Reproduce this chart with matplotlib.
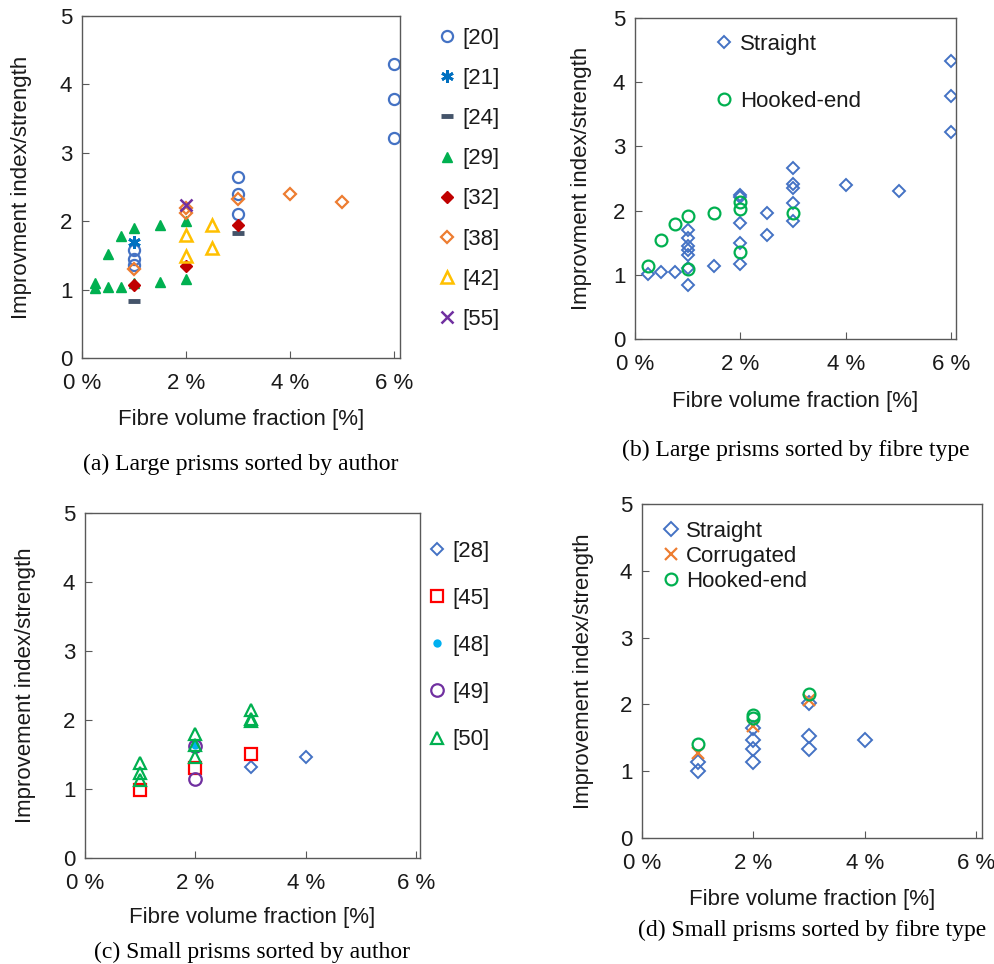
import matplotlib
matplotlib.use('Agg')
import matplotlib.pyplot as plt

plt.rcParams['font.family'] = ['Liberation Sans', 'DejaVu Sans']

# ---- (a) large prisms sorted by author ----
a20_x = [1, 1, 1, 3, 3, 3, 6, 6, 6]
a20_y = [1.58, 1.45, 1.36, 2.65, 2.40, 2.11, 4.30, 3.78, 3.22]
a21_x = [1]
a21_y = [1.69]
a24_x = [1, 3]
a24_y = [0.84, 1.83]
a29_x = [0.25, 0.25, 0.5, 0.5, 0.75, 0.75, 1, 1, 1.5, 1.5, 2, 2]
a29_y = [1.10, 1.02, 1.04, 1.52, 1.04, 1.78, 1.90, 1.10, 1.11, 1.94, 2.00, 1.16]
a32_x = [1, 2, 3]
a32_y = [1.07, 1.35, 1.94]
a38_x = [1, 2, 2, 3, 4, 5]
a38_y = [1.30, 2.19, 2.12, 2.32, 2.40, 2.28]
a42_x = [2, 2, 2.5, 2.5]
a42_y = [1.80, 1.49, 1.94, 1.61]
a55_x = [2]
a55_y = [2.23]

# ---- (b) large prisms sorted by fibre type ----
b_straight_x = [0.25, 0.5, 0.75, 1, 1, 1, 1, 1, 1, 1, 1.5, 2, 2, 2, 2, 2,
                2.5, 2.5, 3, 3, 3, 3, 3, 4, 5, 6, 6, 6]
b_straight_y = [1.02, 1.04, 1.04, 1.70, 1.58, 1.45, 1.38, 1.31, 1.10, 0.84,
                1.13, 2.24, 2.21, 1.80, 1.50, 1.17, 1.96, 1.62, 2.67, 2.41,
                2.35, 2.12, 1.84, 2.40, 2.30, 4.33, 3.79, 3.23]
b_hooked_x = [0.25, 0.5, 0.75, 1, 1, 1.5, 2, 2, 2, 3]
b_hooked_y = [1.13, 1.54, 1.79, 1.92, 1.09, 1.97, 2.14, 2.02, 1.35, 1.96]

# ---- (c) small prisms sorted by author ----
c28_x = [3, 4]
c28_y = [1.32, 1.47]
c45_x = [1, 2, 3]
c45_y = [0.99, 1.31, 1.51]
c48_x = [2]
c48_y = [1.64]
c49_x = [2, 2]
c49_y = [1.62, 1.14]
c50_x = [1, 1, 1, 2, 2, 2, 3, 3, 3]
c50_y = [1.37, 1.23, 1.13, 1.79, 1.63, 1.46, 2.14, 2.02, 1.98]

# ---- (d) small prisms sorted by fibre type ----
d_straight_x = [1, 1, 2, 2, 2, 2, 3, 3, 3, 4]
d_straight_y = [1.00, 1.14, 1.64, 1.47, 1.33, 1.14, 2.02, 1.52, 1.33, 1.47]
d_corr_x = [1, 2, 3]
d_corr_y = [1.27, 1.67, 2.06]
d_hooked_x = [1, 2, 2, 3]
d_hooked_y = [1.41, 1.84, 1.79, 2.16]

x_ticks = [0, 2, 4, 6]
x_ticklabels = ['0 %', '2 %', '4 %', '6 %']
y_ticks = [0, 1, 2, 3, 4, 5]

BLUE = '#4472C4'
GREEN = '#00B050'
ORANGE = '#ED7D31'
SPINE = '#595959'
TEXT = '#1a1a1a'
FS = 16

fig = plt.figure(figsize=(9.95, 9.64), dpi=100)


def add_panel(rect, xmax, ylabel, caption, cap_off, ylab_off, xlab_off):
    ax = fig.add_axes(rect)
    w_px = rect[2] * 995
    h_px = rect[3] * 964
    ax.set_xlim(0, xmax)
    ax.set_ylim(0, 5)
    ax.set_xticks(x_ticks)
    ax.set_xticklabels(x_ticklabels)
    ax.set_yticks(y_ticks)
    ax.tick_params(direction='in', length=5, width=0.8, color=SPINE,
                   labelsize=FS, labelcolor=TEXT)
    ax.tick_params(axis='x', pad=11)
    ax.tick_params(axis='y', pad=7)
    for s in ax.spines.values():
        s.set_color(SPINE)
        s.set_linewidth(1.0)
    ax.set_xlabel('Fibre volume fraction [%]', fontsize=FS, color=TEXT)
    ax.set_ylabel(ylabel, fontsize=FS, color=TEXT)
    ax.yaxis.set_label_coords(-ylab_off / w_px, 0.5)
    ax.xaxis.set_label_coords(0.5, -xlab_off / h_px)
    ax.text(0.5, -cap_off / h_px, caption, transform=ax.transAxes,
            ha='center', va='center', fontsize=17,
            family='Liberation Serif', color='black')
    return ax


def pts(ax, x, y, **kw):
    style = dict(linestyle='none', markersize=8, markeredgewidth=1.6)
    style.update(kw)
    return ax.plot(x, y, **style)[0]


def legend(ax, handles, anchor, spacing):
    ax.legend(handles=handles, loc='upper left', bbox_to_anchor=anchor,
              frameon=False, fontsize=FS, handlelength=0.8, handletextpad=0.3,
              labelspacing=spacing, borderaxespad=0, borderpad=0,
              labelcolor=TEXT)


# (a)
ax = add_panel([0.0824, 0.6286, 0.3196, 0.3548], 6.12,
               'Improvment index/strength',
               '(a) Large prisms sorted by author', 106, 50, 51)
h = []
h.append(pts(ax, a20_x, a20_y, marker='o', mfc='none', mec=BLUE, label='[20]'))
h.append(pts(ax, a21_x, a21_y, marker=(6, 2, 0), color='#0070C0',
             markersize=9, markeredgewidth=2, label='[21]'))
h.append(pts(ax, a24_x, a24_y, marker='_', color='#44546A', markersize=9,
             markeredgewidth=3.5, label='[24]'))
h.append(pts(ax, a29_x, a29_y, marker='^', color=GREEN, markersize=7,
             markeredgewidth=1, label='[29]'))
h.append(pts(ax, a32_x, a32_y, marker='D', color='#C00000', markersize=6,
             markeredgewidth=1, label='[32]'))
h.append(pts(ax, a38_x, a38_y, marker='D', mfc='none', mec=ORANGE,
             markersize=6.5, label='[38]'))
h.append(pts(ax, a42_x, a42_y, marker='^', mfc='none', mec='#FFC000',
             markersize=9, markeredgewidth=1.8, label='[42]'))
h.append(pts(ax, a55_x, a55_y, marker='x', color='#7030A0', markersize=8,
             markeredgewidth=1.8, label='[55]'))
legend(ax, h, (1.12, 0.965), 0.86)

# (b)
ax = add_panel([0.6382, 0.6483, 0.3226, 0.3330], 6.09,
               'Improvment index/strength',
               '(b) Large prisms sorted by fibre type', 111, 43, 52)
h1 = pts(ax, b_straight_x, b_straight_y, marker='D', mfc='none', mec=BLUE,
         markersize=6.5, markeredgewidth=1.4, label='Straight')
h2 = pts(ax, b_hooked_x, b_hooked_y, marker='o', mfc='none', mec=GREEN,
         markersize=8.5, markeredgewidth=1.6, label='Hooked-end')
legend(ax, [h1, h2], (0.25, 0.950), 1.6)

# (c)
ax = add_panel([0.0854, 0.1100, 0.3367, 0.3579], 6.07,
               'Improvement index/strength',
               '(c) Small prisms sorted by author', 94, 49, 49)
h = []
h.append(pts(ax, c28_x, c28_y, marker='D', mfc='none', mec=BLUE,
             markersize=6.5, markeredgewidth=1.4, label='[28]'))
h.append(pts(ax, c45_x, c45_y, marker='s', mfc='none', mec='#FF0000',
             markersize=9, markeredgewidth=1.6, label='[45]'))
h.append(pts(ax, c48_x, c48_y, marker='o', color='#00B0F0', markersize=6,
             markeredgewidth=0, label='[48]'))
h.append(pts(ax, c49_x, c49_y, marker='o', mfc='none', mec='#7030A0',
             markersize=9, markeredgewidth=1.6, label='[49]'))
h.append(pts(ax, c50_x, c50_y, marker='^', mfc='none', mec=GREEN,
             markersize=9, markeredgewidth=1.6, label='[50]'))
legend(ax, h, (1.025, 0.92), 1.18)

# (d)
ax = add_panel([0.6452, 0.1307, 0.3417, 0.3465], 6.1,
               'Improvement index/strength',
               '(d) Small prisms sorted by fibre type', 92, 48, 51)
h1 = pts(ax, d_straight_x, d_straight_y, marker='D', mfc='none', mec=BLUE,
         markersize=7, markeredgewidth=1.4, label='Straight')
h2 = pts(ax, d_corr_x, d_corr_y, marker='x', color=ORANGE, markersize=8,
         markeredgewidth=1.6, label='Corrugated')
h3 = pts(ax, d_hooked_x, d_hooked_y, marker='o', mfc='none', mec=GREEN,
         markersize=8.5, markeredgewidth=1.6, label='Hooked-end')
legend(ax, [h1, h2, h3], (0.058, 0.95), 0.18)

fig.savefig('out.png', dpi=100)
